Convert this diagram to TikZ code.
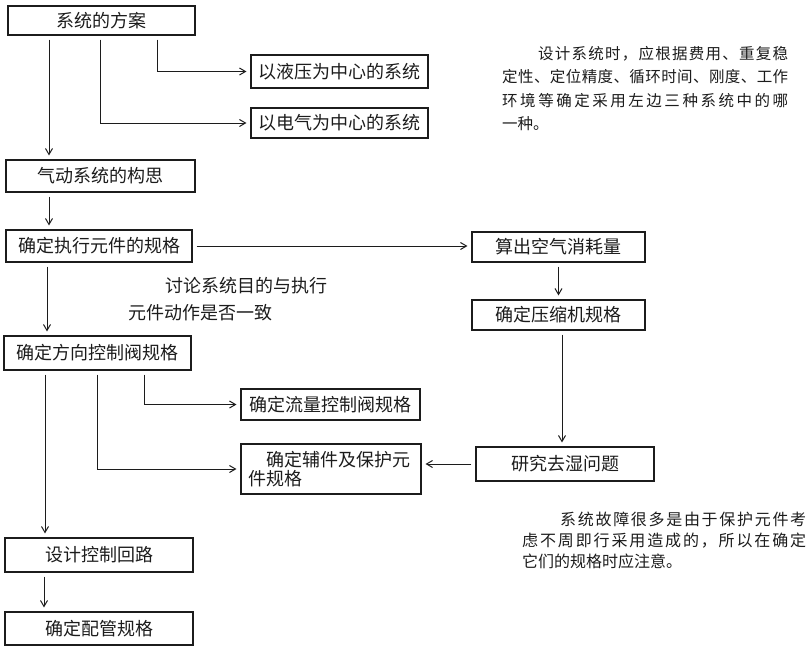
\documentclass[tikz,border=0pt]{standalone}
\usepackage{fontspec}
\setmainfont{Noto Sans CJK SC}
\usepackage{tikz}
\usetikzlibrary{arrows.meta}
% one line of text spread out to a given width
\def\spreadA#1{#1\spreadB}
\def\spreadB#1{\ifx\relax#1\else\hfil#1\expandafter\spreadB\fi}
\newcommand\sline[2]{\makebox[#1][s]{\spreadA#2\relax}}
\definecolor{ink}{HTML}{1C1C1C}
\tikzset{
  box/.style={draw=ink,line width=1.1pt,inner sep=2pt,text=ink,font=\fontsize{18}{19}\selectfont},
  arrow/.style={-{Straight Barb[length=6pt,width=7pt]},line width=1pt,color=ink,shorten <=4pt,shorten >=4pt},
  note/.style={text=ink,inner sep=0pt,anchor=north west,align=left,font=\fontsize{15.5}{23.5}\selectfont},
  lbl/.style={text=ink,inner sep=0pt,anchor=west,font=\fontsize{18}{19}\selectfont},
}

\begin{document}
\begin{tikzpicture}[x=1pt,y=-1pt]
    \useasboundingbox (0,0) rectangle (811,651);
    % boxes: name/x/y/width/height/text
    \foreach \n/\x/\y/\w/\h/\t in {
      fa/101.5/20.5/187/29/系统的方案,
      ye/339.5/71.5/177/33/以液压为中心的系统,
      dq/339.5/123/177/30/以电气为中心的系统,
      gs/100.5/176/189/32/气动系统的构思,
      zx/99/246/186/32/确定执行元件的规格,
      hq/558.5/247/173/30/算出空气消耗量,
      ys/558.5/315/173/30/确定压缩机规格,
      fx/97.5/353/187/34/确定方向控制阀规格,
      ll/330.5/404.5/179/31/确定流量控制阀规格,
      qs/565/464/178/34/研究去湿问题,
      hl/99/555/188/34/设计控制回路,
      pg/99/628.5/188/33/确定配管规格} {
      \node[box,minimum width=\w pt,minimum height=\h pt] (\n) at (\x,\y) {\t};
    }
    \node[box,minimum width=180pt,minimum height=50pt,text width=166pt,align=left] (fj) at (331,469) {\hspace*{1em}确定辅件及保护元\\件规格};

    % connectors
    \draw[arrow] ([xshift=-52.5pt]fa.south) -- ([xshift=-51.5pt]gs.north);
    \draw[arrow] ([xshift=55.5pt]fa.south) |- (ye.west);
    \draw[arrow] ([xshift=-1.5pt]fa.south) |- (dq.west);
    \draw[arrow] ([xshift=-51.5pt]gs.south) -- ([xshift=-50pt]zx.north);
    \draw[arrow] (zx.east) -- (zx.east -| hq.west);
    \draw[arrow] ([xshift=-52pt]zx.south) -- ([xshift=-50.5pt]fx.north);
    \draw[arrow] (hq.south) -- (ys.north);
    \draw[arrow] ([xshift=3.5pt]ys.south) -- ([xshift=-3pt]qs.north);
    \draw[arrow] (qs.west) -- (qs.west -| fj.east);
    \draw[arrow] ([xshift=46.5pt]fx.south) |- (ll.west);
    \draw[arrow] ([xshift=-0.5pt]fx.south) |- (fj.west);
    \draw[arrow] ([xshift=-52.5pt]fx.south) -- ([xshift=-54pt]hl.north);
    \draw[arrow] ([xshift=-55pt]hl.south) -- ([xshift=-55pt]pg.north);

    % remarks
    \node[lbl] (tl1) at (165,286) {讨论系统目的与执行};
    \node[lbl] (tl2) at (128,313) {元件动作是否一致};
    \node[note] (n1) at (502,46) {\hspace*{36pt}\sline{250pt}{设计系统时，应根据费用、重复稳}\\
      \sline{286pt}{定性、定位精度、循环时间、刚度、工作}\\
      \sline{286pt}{环境等确定采用左边三种系统中的哪}\\
      一种。};
    \node[note,font=\fontsize{16}{21}\selectfont] (n2) at (522,512) {\hspace*{38pt}\sline{246pt}{系统故障很多是由于保护元件考}\\
      \sline{284pt}{虑不周即行采用造成的，所以在确定}\\
      它们的规格时应注意。};
  \end{tikzpicture}
\end{document}
